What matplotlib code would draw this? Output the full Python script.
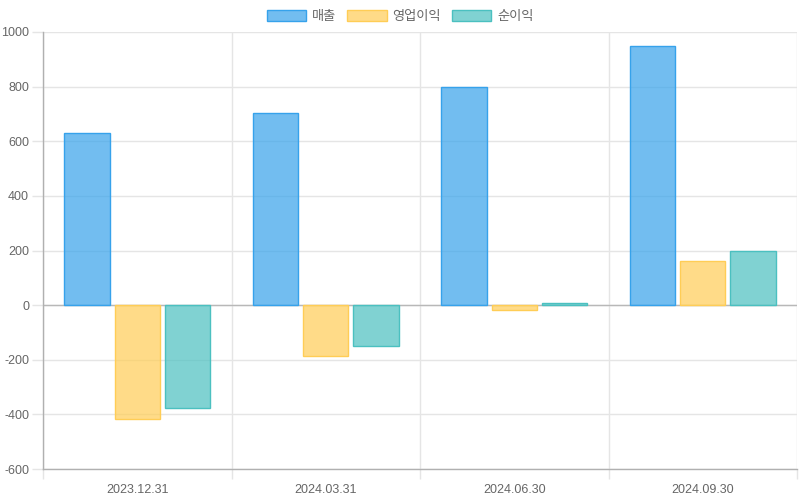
import numpy as np
import matplotlib as mpl
mpl.use('Agg')
import matplotlib.pyplot as plt
from matplotlib.patches import Patch

plt.rcParams['font.family'] = ['Liberation Sans', 'Noto Sans CJK KR', 'DejaVu Sans']

# data
periods = ['2023.12.31', '2024.03.31', '2024.06.30', '2024.09.30']
series_names = ['매출', '영업이익', '순이익']
revenue = [630, 703, 798, 948]
op_profit = [-417, -187, -18, 161]
net_profit = [-377, -150, 7, 198]
yticks = [-600, -400, -200, 0, 200, 400, 600, 800, 1000]

fills = [(54/255, 162/255, 235/255, 0.7), (255/255, 205/255, 86/255, 0.7), (75/255, 192/255, 192/255, 0.7)]
edges = ['#36a2eb', '#ffcd56', '#4bc0c0']

fig = plt.figure(figsize=(8, 5), dpi=100)
ax = fig.add_axes([43/800, 1 - 469/500, (797 - 43)/800, (469 - 32)/500])

x = np.arange(len(periods))
slot = 0.8 / 3
bw = slot * 0.9
for i, vals in enumerate([revenue, op_profit, net_profit]):
    ax.bar(x + (i - 1) * slot, vals, width=bw, color=fills[i], edgecolor=edges[i],
           linewidth=1, zorder=3)

ax.set_xlim(-0.5, len(periods) - 0.5)
ax.set_ylim(-600, 1000)
ax.set_yticks(yticks)
ax.set_yticklabels([str(v) for v in yticks])
ax.set_xticks(x)
ax.set_xticklabels(periods)
ax.set_xticks(np.arange(-0.5, len(periods)), minor=True)

ax.tick_params(axis='x', which='major', length=0, pad=11, labelsize=9, labelcolor='#666666')
ax.tick_params(axis='x', which='minor', length=7.5, color='#e5e5e5', width=1)
ax.tick_params(axis='y', length=8, color='#e5e5e5', width=1, pad=2, labelsize=9, labelcolor='#666666')

ax.grid(axis='y', color='#e5e5e5', linewidth=1, zorder=0)
ax.grid(axis='x', which='minor', color='#e5e5e5', linewidth=1, zorder=0)
ax.axhline(0, color='#b8b8b8', linewidth=1, zorder=2)

for s in ['top', 'right']:
    ax.spines[s].set_visible(False)
for s in ['left', 'bottom']:
    ax.spines[s].set_color('#b0b0b0')
    ax.spines[s].set_linewidth(1)

handles = [Patch(facecolor=fills[i], edgecolor=edges[i], linewidth=1) for i in range(3)]
leg = fig.legend(handles, series_names, loc='center', bbox_to_anchor=(0.5, 1 - 16.5/500),
                 ncol=3, frameon=False, fontsize=9.5, handlelength=3.0, handleheight=0.85,
                 handletextpad=0.45, columnspacing=0.8)
for t in leg.get_texts():
    t.set_color('#666666')

plt.savefig('out.png', dpi=100)
plt.close()
